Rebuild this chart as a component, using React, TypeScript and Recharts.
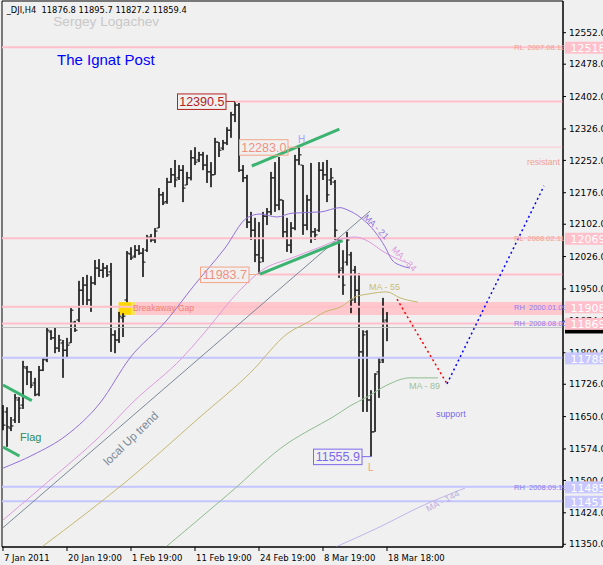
import React from 'react';
import {
  ComposedChart, Bar, Line, XAxis, YAxis, ReferenceLine, ReferenceArea, ReferenceDot,
} from 'recharts';

const FONT_UI = '"DejaVu Sans", sans-serif';
const FONT_TXT = '"Liberation Sans", Arial, sans-serif';

// ---------- axes ----------
const X_MIN = -0.25;
const X_MAX = 140;
const Y_MIN = 11343.6;
const Y_MAX = 12626.5;
const xTickIdx = [0, 16, 32, 48, 64, 80, 96];
const xTickLabels = ['7 Jan 2011', '20 Jan 19:00', '1 Feb 19:00', '11 Feb 19:00', '24 Feb 19:00', '8 Mar 19:00', '18 Mar 18:00'];
const yTicks = [12552, 12478, 12402, 12326, 12252, 12176, 12102, 12026, 11950, 11874, 11800, 11726, 11650, 11574, 11500, 11424, 11350];

// ---------- H4 OHLC bars ----------
const opens = [11661, 11661, 11623, 11642, 11689, 11677, 11764, 11755, 11729, 11703, 11759, 11783, 11849, 11835, 11811, 11823, 11806, 11823, 11872, 11877, 11947, 11959, 11924, 11964, 11999, 11994, 11999, 11990, 11842, 11830, 11882, 11924, 12032, 12027, 12041, 12034, 12041, 12072, 12065, 12093, 12171, 12155, 12201, 12218, 12211, 12229, 12194, 12211, 12258, 12253, 12265, 12241, 12225, 12218, 12295, 12281, 12293, 12323, 12359, 12382, 12229, 12211, 12107, 12088, 12030, 12023, 12121, 12131, 12211, 12147, 12159, 12084, 12053, 12093, 12253, 12241, 12100, 12159, 12084, 12088, 12229, 12218, 12206, 12201, 12065, 11999, 12013, 12030, 11994, 11947, 11802, 11849, 11689, 11614, 11755, 11783, 11876.8];
const highs = [11677, 11672, 11649, 11703, 11696, 11781, 11769, 11757, 11741, 11769, 11790, 11860, 11853, 11860, 11842, 11830, 11835, 11905, 11875, 11969, 11978, 11983, 11980, 12018, 12020, 12011, 12006, 12011, 11853, 11896, 11893, 12039, 12048, 12053, 12053, 12046, 12077, 12079, 12093, 12187, 12178, 12211, 12234, 12253, 12241, 12241, 12225, 12276, 12283, 12272, 12272, 12265, 12248, 12305, 12295, 12300, 12330, 12366, 12390.5, 12387, 12241, 12218, 12131, 12117, 12107, 12131, 12140, 12225, 12248, 12260, 12159, 12117, 12107, 12265, 12283, 12241, 12171, 12246, 12093, 12248, 12248, 12253, 12234, 12206, 12070, 12041, 12084, 12037, 12004, 11987, 11853, 11853, 11712, 11752, 11790, 11929, 11895.7];
const lows = [11618, 11579, 11616, 11635, 11635, 11668, 11724, 11717, 11698, 11698, 11757, 11778, 11830, 11799, 11802, 11741, 11790, 11823, 11849, 11872, 11912, 11912, 11896, 11959, 11978, 11976, 11978, 11802, 11799, 11823, 11837, 11919, 12018, 12023, 12030, 11978, 12037, 12060, 12058, 12093, 12147, 12150, 12199, 12189, 12206, 12154, 12194, 12205, 12241, 12248, 12229, 12199, 12189, 12218, 12260, 12276, 12288, 12305, 12342, 12225, 12201, 12093, 12065, 12013, 11983.7, 12013, 12100, 12124, 12131, 12135, 12070, 12037, 12034, 12088, 12241, 12077, 12088, 12058, 12065, 12084, 12206, 12154, 12194, 12065, 11976, 11936, 12005, 11893, 11917, 11696, 11661, 11661, 11555.9, 11614, 11694, 11776, 11827.2];
const closes = [11630, 11626, 11628, 11694, 11670, 11767, 11755, 11724, 11701, 11759, 11785, 11853, 11835, 11811, 11830, 11806, 11818, 11900, 11853, 11947, 11959, 11924, 11964, 11999, 11994, 11999, 11983, 11842, 11830, 11886, 11886, 12034, 12023, 12041, 12034, 12013, 12070, 12065, 12086, 12171, 12152, 12201, 12218, 12206, 12229, 12187, 12211, 12258, 12248, 12265, 12241, 12225, 12218, 12295, 12276, 12293, 12323, 12359, 12382, 12229, 12211, 12107, 12088, 12030, 12013, 12121, 12131, 12211, 12147, 12159, 12084, 12053, 12093, 12253, 12265, 12100, 12159, 12084, 12077, 12229, 12218, 12171, 12211, 12088, 11994, 11959, 12065, 11924, 11947, 11802, 11842, 11689, 11614, 11750, 11778, 11872, 11859.4];

const bars = opens.map((o, i) => ({ i, o, h: highs[i], l: lows[i], c: closes[i], hl: [lows[i], highs[i]] }));

// ---------- moving averages (bar index, value) ----------
const ma21Idx = [0, 7.5, 16, 24.25, 31.75, 41, 47.5, 55.5, 61, 64.25, 68.5, 72.25, 79.5, 84.25, 86.25, 89.5, 93, 95.5, 97.25, 99.75, 101.75];
const ma21Val = [11529, 11560, 11607, 11682, 11788, 11877, 11955, 12046, 12117, 12126, 12119, 12128, 12131, 12141, 12135, 12117, 12084, 12049, 12018, 12004, 11999];
const ma34Idx = [0, 11.75, 24.25, 32.5, 45, 49.25, 59.75, 64.75, 72.25, 79.5, 83.75, 88, 92, 94.5, 98, 101.75];
const ma34Val = [11407, 11501, 11604, 11684, 11790, 11835, 11952, 11994, 12023, 12049, 12065, 12072, 12058, 12041, 12023, 12009];
const ma55Idx = [9.75, 31.25, 49.25, 61.75, 71.25, 76.25, 80.5, 84.5, 88, 91.25, 96, 99.25, 103.75];
const ma55Val = [11344, 11501, 11649, 11752, 11846, 11872, 11896, 11908, 11931, 11938, 11943, 11929, 11919];
const ma89Idx = [40.75, 56.75, 71.25, 76.75, 82.5, 86.75, 91, 96, 101.75, 108.75];
const ma89Val = [11344, 11471, 11588, 11619, 11649, 11675, 11696, 11724, 11741, 11741];
const ma144Idx = [83.25, 94.25, 104.25, 115.5];
const ma144Val = [11344, 11391, 11438, 11482];

const toPts = (idx: number[], val: number[]) => idx.map((i, k) => ({ i, v: val[k] }));
const ma21 = toPts(ma21Idx, ma21Val);
const ma34 = toPts(ma34Idx, ma34Val);
const ma55 = toPts(ma55Idx, ma55Val);
const ma89 = toPts(ma89Idx, ma89Val);
const ma144 = toPts(ma144Idx, ma144Val);

// ---------- trend lines / projections: [i1, v1, i2, v2] ----------
const localTrend = [0, 11389, 91.75, 12133];
const greenLines = [
  [62.2, 12238.8, 84.1, 12325.7],
  [64.25, 11985, 84.9, 12063.3],
  [0, 11724.2, 7.2, 11687.4],
  [0, 11578.7, 4.1, 11557.4],
];
const projDown = [98.5, 11926, 111, 11727];
const projUp = [111, 11727, 135.25, 12192];

// ---------- horizontal levels ----------
const levelValues = [12518, 12390.5, 12283, 12069, 11983.7, 11908, 11869, 11859.4, 11788, 11485, 11451];
const levelStart = [X_MIN, 58, 73.5, X_MIN, 63.75, X_MIN, X_MIN, X_MIN, X_MIN, X_MIN, X_MIN];
const levelColor = ['#ffc0cb', '#ffc0cb', '#ffc8cc', '#ffc0cb', '#ffc0cb', '#ffc0cb', '#ffc0cb', '#c0c0c0', '#c4c4ff', '#c4c4ff', '#c4c4ff'];
const levelWidth = [2, 2, 1, 2, 2, 2, 2, 1, 2, 2, 2];

const gapZone = [11889, 11919];
const gapBoxIdx = [28.9, 32, 33.1];

const tagValues = [12518, 12069, 11908, 11869, 11788, 11485, 11451];
const tagColor = ['#ffc0cb', '#ffc0cb', '#ffc0cb', '#ffc0cb', '#c8c8ff', '#c8c8ff', '#c8c8ff'];
const lastPrice = 11859.4;

const levelNames = ['RL  2007.08.12', 'RL  2008.02.11', 'RH  2000.01.09', 'RH  2008.08.05', 'RH  2008.09.19'];
const levelNameValues = [12518, 12069, 11908, 11869, 11485];
const levelNameColor = ['#f0a090', '#f0a090', '#8a7cf0', '#8a7cf0', '#8a7cf0'];

// ---------- shapes ----------
const OhlcShape = (props: any) => {
  const { x, y, width, height, payload } = props;
  if (!payload) return null;
  const cx = Math.round(x + width / 2);
  const top = Math.min(y, y + height);
  const hgt = Math.max(Math.abs(height), 1);
  const span = payload.h - payload.l || 1;
  const yo = top + ((payload.h - payload.o) / span) * hgt;
  const yc = top + ((payload.h - payload.c) / span) * hgt;
  return (
    <g fill="#000">
      <rect x={cx - 0.75} y={top} width={1.5} height={hgt} />
      <rect x={cx - 2.5} y={yo - 0.5} width={2} height={1} />
      <rect x={cx + 0.5} y={yc - 0.5} width={2} height={1} />
    </g>
  );
};

const XTick = (props: any) => {
  const { x, y, payload } = props;
  const k = xTickIdx.indexOf(payload.value);
  return (
    <text x={x + 1} y={y} dy={9} fontSize={8.5} fontFamily={FONT_UI} fill="#000" textAnchor="start">
      {k >= 0 ? xTickLabels[k] : ''}
    </text>
  );
};

const boxMarker = (text: string, color: string, textColor: string, extra?: (cx: number, cy: number) => React.ReactNode) =>
  (p: any) => {
    const { cx, cy } = p;
    return (
      <g>
        <line x1={cx - 9} y1={cy} x2={cx} y2={cy} stroke={color} strokeWidth={1} />
        <rect x={cx - 57.5} y={cy - 7.5} width={48.5} height={15.5} fill="none" stroke={color} strokeWidth={1} />
        <text x={cx - 33.2} y={cy + 4.5} textAnchor="middle" fontSize={12.5} fontFamily={FONT_TXT} fill={textColor}>{text}</text>
        {extra ? extra(cx, cy) : null}
      </g>
    );
  };

const textAt = (text: string, color: string, size: number, rotate = 0, weight = 400) => (p: any) => {
  const { cx, cy } = p;
  return (
    <text x={cx} y={cy} fontSize={size} fontFamily={FONT_TXT} fill={color} fontWeight={weight}
      transform={rotate ? `rotate(${rotate} ${cx} ${cy})` : undefined} style={{ whiteSpace: 'pre' }}>
      {text}
    </text>
  );
};

const tagShape = (label: string, bg: string, fg = '#ffffff') => (p: any) => {
  const { cx, cy } = p;
  return (
    <g>
      <rect x={cx + 2} y={cy - 5.5} width={42} height={12} fill={bg} />
      <text x={cx + 7.5} y={cy + 4.8} fontSize={11} fontFamily={FONT_UI} fill={fg}>{label}</text>
    </g>
  );
};

const blackTag = (p: any) => {
  const { cx, cy } = p;
  return <rect x={cx + 2} y={cy - 6} width={42} height={12} fill="#000" />;
};

const seg = (a: number[]) => [{ x: a[0], y: a[1] }, { x: a[2], y: a[3] }];

export default function App() {
  return (
    <div style={{ position: 'absolute', left: 0, top: 0, width: 603, height: 565, background: '#f0f0f0', overflow: 'hidden' }}>
      <ComposedChart width={603} height={565} data={bars} margin={{ top: 1, right: 0, bottom: 0, left: 2 }}>
        <XAxis type="number" dataKey="i" domain={[X_MIN, X_MAX]} allowDataOverflow ticks={xTickIdx} interval={0}
          height={18} tickSize={4} tickMargin={1} tick={<XTick />} axisLine={{ stroke: '#000' }} tickLine={{ stroke: '#000' }} />
        <YAxis orientation="right" type="number" domain={[Y_MIN, Y_MAX]} allowDataOverflow ticks={yTicks} interval={0}
          width={40} tickSize={3} tickMargin={3} tickFormatter={(v: number) => v.toFixed(1)}
          tick={{ fontSize: 9, fill: '#000', fontFamily: FONT_UI }} axisLine={{ stroke: '#000' }} tickLine={{ stroke: '#000' }} />

        <ReferenceArea x1={gapBoxIdx[2]} x2={X_MAX} y1={gapZone[0]} y2={gapZone[1]} fill="#ffc8cc" fillOpacity={1} stroke="none" ifOverflow="visible" />
        <ReferenceArea x1={gapBoxIdx[0]} x2={gapBoxIdx[1]} y1={gapZone[0]} y2={gapZone[1]} fill="#ffd700" fillOpacity={1} stroke="none" ifOverflow="visible" />
        <ReferenceArea x1={gapBoxIdx[1]} x2={gapBoxIdx[2]} y1={gapZone[0]} y2={gapZone[1]} fill="#f2e45c" fillOpacity={1} stroke="none" ifOverflow="visible" />

        {levelValues.map((v, k) => (
          <ReferenceLine key={`lv${k}`} segment={[{ x: levelStart[k], y: v }, { x: X_MAX, y: v }]}
            stroke={levelColor[k]} strokeWidth={levelWidth[k]} ifOverflow="visible" />
        ))}

        <ReferenceLine segment={seg(localTrend)} stroke="#7a8896" strokeWidth={1} ifOverflow="hidden" />

        <Line data={ma144} dataKey="v" type="monotone" stroke="#c0b6e6" strokeWidth={1} dot={false} isAnimationActive={false} />
        <Line data={ma89} dataKey="v" type="monotone" stroke="#8fbc8f" strokeWidth={1} dot={false} isAnimationActive={false} />
        <Line data={ma55} dataKey="v" type="monotone" stroke="#c4b870" strokeWidth={1} dot={false} isAnimationActive={false} />
        <Line data={ma34} dataKey="v" type="monotone" stroke="#dd9ade" strokeWidth={1} dot={false} isAnimationActive={false} />
        <Line data={ma21} dataKey="v" type="monotone" stroke="#9370db" strokeWidth={1} dot={false} isAnimationActive={false} />

        {greenLines.map((g, k) => (
          <ReferenceLine key={`g${k}`} segment={seg(g)} stroke="#3cb371" strokeWidth={3} ifOverflow="visible" />
        ))}

        <Bar dataKey="hl" barSize={4} shape={OhlcShape} isAnimationActive={false} />

        <ReferenceLine segment={seg(projDown)} stroke="#ff0000" strokeWidth={1.5} strokeDasharray="2 3" ifOverflow="visible" />
        <ReferenceLine segment={seg(projUp)} stroke="#0000ff" strokeWidth={1.5} strokeDasharray="2 3" ifOverflow="visible" />

        {levelNames.map((t, k) => (
          <ReferenceDot key={`ln${k}`} x={127.75} y={levelNameValues[k]} r={0} ifOverflow="visible"
            shape={(p: any) => <text x={p.cx} y={p.cy + 3} fontSize={7.5} fontFamily={FONT_TXT} fill={levelNameColor[k]} style={{ whiteSpace: 'pre' }}>{t}</text>} />
        ))}
        <ReferenceDot x={131} y={12241} r={0} ifOverflow="visible" shape={textAt('resistant', '#f0a090', 8.7)} />

        <ReferenceDot x={58} y={12390.5} r={0} ifOverflow="visible" shape={boxMarker('12390.5', '#b22222', '#b22222')} />
        <ReferenceDot x={73.5} y={12283} r={0} ifOverflow="visible"
          shape={boxMarker('12283.0', '#f4a58a', '#f09080', (cx, cy) => (
            <text x={cx + 1} y={cy - 4.5} fontSize={10} fontFamily={FONT_TXT} fill="#a8a0ff">H</text>))} />
        <ReferenceDot x={63.75} y={11983.7} r={0} ifOverflow="visible" shape={boxMarker('11983.7', '#f4a58a', '#f09080')} />
        <ReferenceDot x={92} y={11555.9} r={0} ifOverflow="visible"
          shape={boxMarker('11555.9', '#7b68ee', '#7b68ee', (cx, cy) => (
            <text x={cx - 3} y={cy + 14} fontSize={10} fontFamily={FONT_TXT} fill="#f4a07a">L</text>))} />

        <ReferenceDot x={4.25} y={11592.7} r={0} ifOverflow="visible" shape={textAt('Flag', '#2e8b57', 11)} />
        <ReferenceDot x={26.25} y={11534} r={0} ifOverflow="visible" shape={textAt('local Up trend', '#7a8896', 11.5, -44)} />
        <ReferenceDot x={32.5} y={11897} r={0} ifOverflow="visible" shape={textAt('Breakaway Gap', '#f08070', 8.6)} />
        <ReferenceDot x={91.5} y={11948.6} r={0} ifOverflow="visible" shape={textAt('MA - 55', '#c8bc78', 9)} />
        <ReferenceDot x={101.5} y={11713.7} r={0} ifOverflow="visible" shape={textAt('MA - 89', '#9cc09c', 9)} />
        <ReferenceDot x={108.25} y={11650.2} r={0} ifOverflow="visible" shape={textAt('support', '#7b68ee', 8.9)} />
        <ReferenceDot x={90} y={12116.6} r={0} ifOverflow="visible" shape={textAt('MA - 21', '#9370db', 9, 45)} />
        <ReferenceDot x={97} y={12041.4} r={0} ifOverflow="visible" shape={textAt('MA - 34', '#dd9ade', 9, 45)} />
        <ReferenceDot x={106.25} y={11426} r={0} ifOverflow="visible" shape={textAt('MA - 144', '#b8b0e0', 9, -27)} />

        <ReferenceArea x1={X_MIN} x2={X_MAX} y1={Y_MIN} y2={Y_MAX} fill="none" stroke="#000" strokeWidth={1} ifOverflow="visible" />
      </ComposedChart>

      {/* price tags on the right scale, drawn above the axis labels with the same scales */}
      <div style={{ position: 'absolute', left: 0, top: 0 }}>
        <ComposedChart width={603} height={565} data={bars} margin={{ top: 1, right: 40, bottom: 18, left: 2 }}>
          <XAxis type="number" dataKey="i" domain={[X_MIN, X_MAX]} allowDataOverflow hide />
          <YAxis type="number" domain={[Y_MIN, Y_MAX]} allowDataOverflow hide />
          <ReferenceDot x={X_MAX} y={lastPrice} r={0} ifOverflow="visible" shape={blackTag} />
          {tagValues.map((v, k) => (
            <ReferenceDot key={`tg${k}`} x={X_MAX} y={v} r={0} ifOverflow="visible" shape={tagShape(v.toFixed(1), tagColor[k])} />
          ))}
        </ComposedChart>
      </div>

      <svg width={603} height={565} style={{ position: 'absolute', left: 0, top: 0, pointerEvents: 'none' }}>
        <text x={6.7} y={13.3} fontSize={8.3} fontFamily={FONT_UI} fill="#000" style={{ whiteSpace: 'pre' }}>{'_DJI,H4  11876.8 11895.7 11827.2 11859.4'}</text>
        <text x={53.3} y={26.4} fontSize={13.6} fontFamily={FONT_TXT} fill="#c8c8c8">Sergey Logachev</text>
        <text x={57} y={64.5} fontSize={15} fontFamily={FONT_TXT} fill="#0000ff">The Ignat Post</text>
      </svg>
    </div>
  );
}
